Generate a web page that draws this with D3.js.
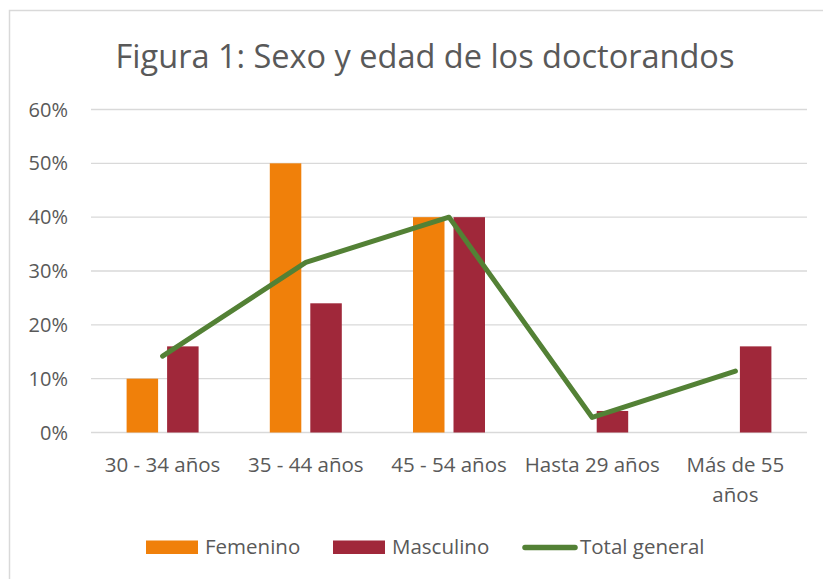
<!DOCTYPE html>
<html>
<head>
<meta charset="utf-8">
<script src="https://cdn.jsdelivr.net/npm/d3@7"></script>
<style>
  body { margin: 0; background: #fff; }
  text { font-family: "Open Sans", "Liberation Sans", sans-serif; fill: #595959; }
</style>
</head>
<body>
<div id="chart"></div>
<script>
// data
const categories = ['30 - 34 años', '35 - 44 años', '45 - 54 años', 'Hasta 29 años', 'Más de 55 años'];
const femenino = [10, 50, 40, null, null];
const masculino = [16, 24, 40, 4, 16];
const totalGeneral = [14.2, 31.6, 40, 2.8, 11.4];
const yTicks = [0, 10, 20, 30, 40, 50, 60];

const width = 823;
const height = 579;
const margin = { top: 110, right: 16, bottom: 146, left: 91 };

const svg = d3.select('#chart').append('svg')
  .attr('width', width)
  .attr('height', height);

/* chart frame: only top and left edges are visible */
svg.append('rect')
  .attr('x', 9.5).attr('y', 10.5)
  .attr('width', width + 20).attr('height', height + 20)
  .attr('fill', 'none')
  .attr('stroke', '#d9d9d9')
  .attr('stroke-width', 1.5);

svg.append('text')
  .attr('x', 425).attr('y', 68)
  .attr('text-anchor', 'middle')
  .style('font-size', '32.5px')
  .text('Figura 1: Sexo y edad de los doctorandos');

const x = d3.scaleBand()
  .domain(categories)
  .range([margin.left, width - margin.right]);

const y = d3.scaleLinear()
  .domain([0, 60])
  .range([height - margin.bottom - 0.5, margin.top - 0.5]);

/* gridlines */
svg.append('g')
  .selectAll('line')
  .data(yTicks)
  .join('line')
  .attr('x1', margin.left).attr('x2', width - margin.right)
  .attr('y1', (d) => y(d)).attr('y2', (d) => y(d))
  .attr('stroke', '#d9d9d9')
  .attr('stroke-width', 1.3);

/* y tick labels */
svg.append('g')
  .selectAll('text')
  .data(yTicks)
  .join('text')
  .attr('x', 68).attr('y', (d) => y(d))
  .attr('dy', '0.35em')
  .attr('text-anchor', 'end')
  .style('font-size', '20px')
  .text((d) => `${d}%`);

/* bars */
const barW = 31.5;
const gap = 9;
const series = [
  { key: 'Femenino', values: femenino, color: '#f0800a', offset: -(gap / 2 + barW) },
  { key: 'Masculino', values: masculino, color: '#a0283a', offset: gap / 2 },
];

series.forEach((s) => {
  svg.append('g')
    .selectAll('rect')
    .data(categories.map((c, i) => ({ c, v: s.values[i] })).filter((d) => d.v != null))
    .join('rect')
    .attr('x', (d) => x(d.c) + x.bandwidth() / 2 + s.offset)
    .attr('y', (d) => y(d.v))
    .attr('width', barW)
    .attr('height', (d) => y(0) - y(d.v))
    .attr('fill', s.color);
});

/* total line */
const line = d3.line()
  .x((d) => x(d.c) + x.bandwidth() / 2)
  .y((d) => y(d.v));

svg.append('path')
  .datum(categories.map((c, i) => ({ c, v: totalGeneral[i] })))
  .attr('d', line)
  .attr('fill', 'none')
  .attr('stroke', '#538135')
  .attr('stroke-width', 5)
  .attr('stroke-linecap', 'round')
  .attr('stroke-linejoin', 'round');

/* x labels, wrapped when too long */
const xLabels = svg.append('g')
  .selectAll('text')
  .data(categories)
  .join('text')
  .attr('x', (d) => x(d) + x.bandwidth() / 2)
  .attr('y', 472)
  .attr('text-anchor', 'middle')
  .style('font-size', '20.5px');

xLabels.each(function (d) {
  const t = d3.select(this);
  const lines = d === 'Más de 55 años' ? ['Más de 55', 'años'] : [d];
  lines.forEach((l, i) => {
    t.append('tspan')
      .attr('x', x(d) + x.bandwidth() / 2)
      .attr('dy', i === 0 ? 0 : 30)
      .text(l);
  });
});

/* legend */
const legend = [
  { key: 'Femenino', color: '#f0800a', type: 'rect', x: 146 },
  { key: 'Masculino', color: '#a0283a', type: 'rect', x: 333 },
  { key: 'Total general', color: '#538135', type: 'line', x: 522 },
];

const lg = svg.append('g')
  .selectAll('g')
  .data(legend)
  .join('g')
  .attr('transform', (d) => `translate(${d.x}, 547.5)`);

lg.filter((d) => d.type === 'rect')
  .append('rect')
  .attr('x', 0).attr('y', -7)
  .attr('width', 52).attr('height', 13.5)
  .attr('fill', (d) => d.color);

lg.filter((d) => d.type === 'line')
  .append('line')
  .attr('x1', 3).attr('x2', 53)
  .attr('stroke', (d) => d.color)
  .attr('stroke-width', 5.5)
  .attr('stroke-linecap', 'round');

lg.append('text')
  .attr('x', (d) => (d.type === 'line' ? 58 : 59))
  .attr('y', 6)
  .style('font-size', '20.5px')
  .text((d) => d.key);
</script>
</body>
</html>
